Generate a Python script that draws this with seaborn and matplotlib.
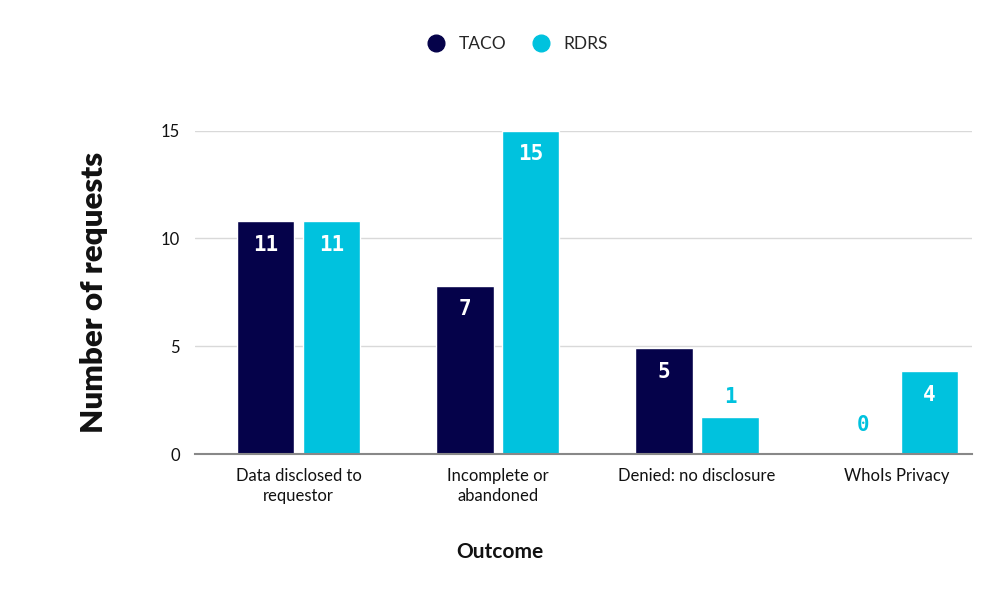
import pandas as pd
import numpy as np
import matplotlib.pyplot as plt
import seaborn as sns
from matplotlib.lines import Line2D

# values
outcomes = ['Data disclosed to\nrequestor', 'Incomplete or\nabandoned',
            'Denied: no disclosure', 'WhoIs Privacy']
taco_heights = [10.8, 7.8, 4.9, 0.0]
rdrs_heights = [10.8, 15.0, 1.7, 3.85]
taco_labels = ['11', '7', '5', '0']
rdrs_labels = ['11', '15', '1', '4']
series = ['TACO', 'RDRS']

NAVY = '#05024a'
CYAN = '#00c2de'

df = pd.DataFrame({
    'Outcome': outcomes * 2,
    'Requests': taco_heights + rdrs_heights,
    'Label': taco_labels + rdrs_labels,
    'Series': ['TACO'] * 4 + ['RDRS'] * 4,
})

sns.set_style('white')
plt.rcParams['font.family'] = ['Lato', 'DejaVu Sans']

fig = plt.figure(figsize=(10, 6), dpi=100)
ax = fig.add_axes([0.195, 0.2433, 0.777, 0.539])

sns.barplot(data=df, x='Outcome', y='Requests', hue='Series', hue_order=series,
            palette=[NAVY, CYAN], width=0.662, gap=0.13, saturation=1,
            legend=False, ax=ax)

ax.set_xlim(-0.52, 3.38)
ax.set_ylim(0, 15)
ax.set_yticks([0, 5, 10, 15])
ax.yaxis.grid(True, color='#d9d9d9', linewidth=1)
ax.set_axisbelow(True)
for s in ['top', 'right', 'left']:
    ax.spines[s].set_visible(False)
ax.spines['bottom'].set_color('#888888')
ax.spines['bottom'].set_linewidth(1.5)
ax.tick_params(axis='both', length=0, labelsize=12, colors='#111111')
ax.tick_params(axis='y', pad=11)
ax.tick_params(axis='x', pad=10)
for t in ax.get_xticklabels():
    t.set_linespacing(1.35)

ax.set_ylabel('Number of requests', fontsize=22.5, fontweight='heavy',
              color='#111111', labelpad=38)
ax.set_xlabel('')
fig.text(0.5, 0.08, 'Outcome', ha='center', va='center', fontsize=15,
         fontweight='bold', color='#111111')

# value labels: inside the bar top in white, above short bars in cyan
for container, labels in zip(ax.containers, [taco_labels, rdrs_labels]):
    for bar, lab in zip(container, labels):
        h = bar.get_height()
        xc = bar.get_x() + bar.get_width() / 2
        if h >= 3:
            ax.annotate(lab, (xc, h), xytext=(0, -17), textcoords='offset points',
                        ha='center', va='center', color='white', fontsize=15,
                        fontweight='bold', family='DejaVu Sans Mono')
        else:
            ax.annotate(lab, (xc, h), xytext=(0, 15 if h > 0 else 21),
                        textcoords='offset points', ha='center', va='center',
                        color=CYAN, fontsize=15, fontweight='bold',
                        family='DejaVu Sans Mono')

handles = [Line2D([0], [0], marker='o', linestyle='', markersize=12,
                  markerfacecolor=c, markeredgecolor=c) for c in [NAVY, CYAN]]
fig.legend(handles, series, loc='center', bbox_to_anchor=(0.513, 0.927), ncol=2,
           frameon=False, fontsize=12.5, handletextpad=0.3, columnspacing=1.0)

fig.savefig('out.png', dpi=100)
